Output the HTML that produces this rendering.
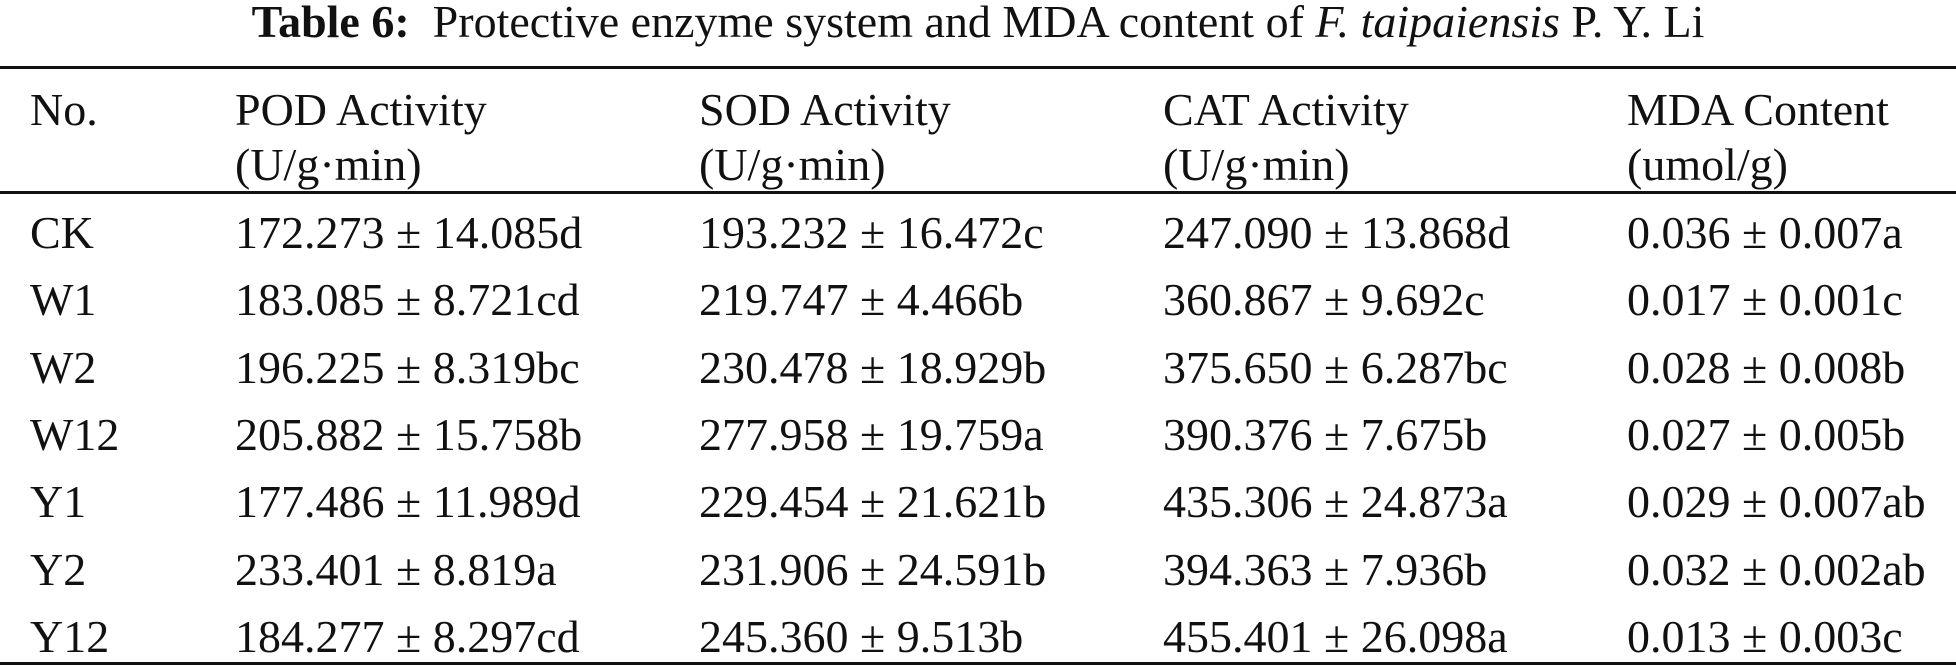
<!DOCTYPE html>
<html><head><meta charset="utf-8"><style>
body{margin:0;width:1956px;height:666px;background:#fff;overflow:hidden;font-family:"Liberation Serif",serif;color:#111;position:relative}
.t{position:absolute;font-size:46px;line-height:1;white-space:nowrap;transform:translateY(-50%)}
.r{position:absolute;left:0;width:1956px;height:3px;background:#111}
#title{position:absolute;left:0;width:1956px;text-align:center;top:-1px;font-size:46px;line-height:46px}
</style></head><body>
<div id="title"><b>Table 6:</b>&nbsp; Protective enzyme system and MDA content of <i>F. taipaiensis</i> P. Y. Li</div>
<div class="r" style="top:66px"></div>
<div class="r" style="top:191px"></div>
<div class="r" style="top:662px"></div>
<div id="tbl"></div>
<script>
const cols=[30,235,699,1163,1627];
const header=[["No.",""],["POD Activity","(U/g·min)"],["SOD Activity","(U/g·min)"],["CAT Activity","(U/g·min)"],["MDA Content","(umol/g)"]];
const rows=[
["CK","172.273 ± 14.085d","193.232 ± 16.472c","247.090 ± 13.868d","0.036 ± 0.007a"],
["W1","183.085 ± 8.721cd","219.747 ± 4.466b","360.867 ± 9.692c","0.017 ± 0.001c"],
["W2","196.225 ± 8.319bc","230.478 ± 18.929b","375.650 ± 6.287bc","0.028 ± 0.008b"],
["W12","205.882 ± 15.758b","277.958 ± 19.759a","390.376 ± 7.675b","0.027 ± 0.005b"],
["Y1","177.486 ± 11.989d","229.454 ± 21.621b","435.306 ± 24.873a","0.029 ± 0.007ab"],
["Y2","233.401 ± 8.819a","231.906 ± 24.591b","394.363 ± 7.936b","0.032 ± 0.002ab"],
["Y12","184.277 ± 8.297cd","245.360 ± 9.513b","455.401 ± 26.098a","0.013 ± 0.003c"]];
const tbl=document.getElementById('tbl');
function add(txt,x,y,name){const d=document.createElement('div');d.className='t';d.style.left=x+'px';d.style.top=y+'px';d.textContent=txt;


tbl.appendChild(d);}
header.forEach((h,i)=>{add(h[0],cols[i],110,'header-cell');if(h[1])add(h[1],cols[i],165,'header-unit');});
rows.forEach((r,j)=>{r.forEach((c,i)=>add(c,cols[i],233+j*67.3,i==0?'row-label':'data-cell'));});
</script>
</body></html>
